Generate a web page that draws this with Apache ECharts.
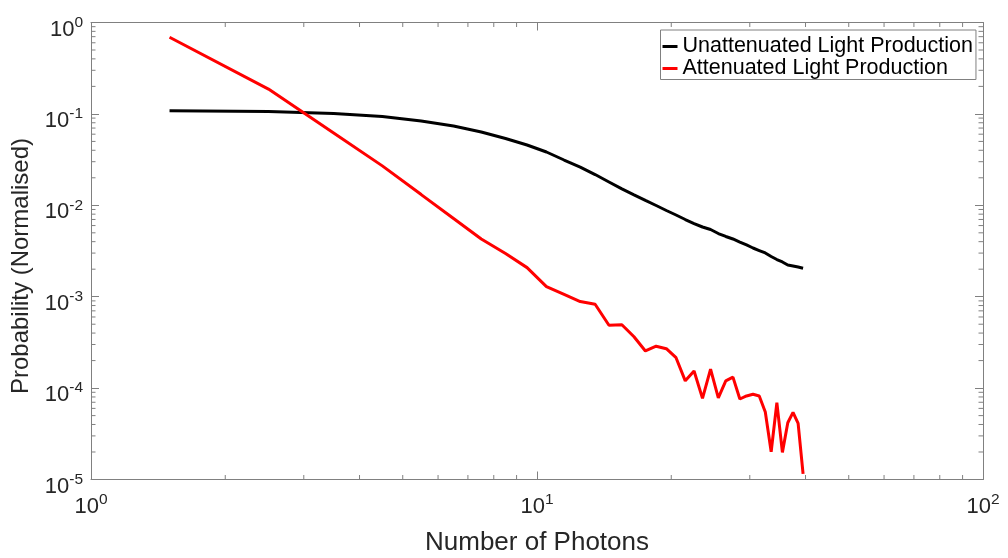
<!DOCTYPE html>
<html>
<head>
<meta charset="utf-8">
<script src="https://cdn.jsdelivr.net/npm/echarts@6/dist/echarts.min.js"></script>
<style>
  html, body { margin: 0; padding: 0; background: #ffffff; }
  #chart { width: 1008px; height: 558px; }
</style>
</head>
<body>
<div id="chart"></div>
<script>
// Photon counts (bin centres)
const photonCounts = [
  1.5, 2.5, 3.5, 4.5, 5.5, 6.5, 7.5, 8.5, 9.5, 10.5,
  11.5, 12.5, 13.5, 14.5, 15.5, 16.5, 17.5, 18.5, 19.5, 20.5,
  21.5, 22.5, 23.5, 24.5, 25.5, 26.5, 27.5, 28.5, 29.5, 30.5,
  31.5, 32.5, 33.5, 34.5, 35.5, 36.5, 37.5, 38.5, 39.5
];

// Normalised probability, unattenuated light production
const unattenuated = [
  0.108, 0.106, 0.101, 0.0937, 0.0836, 0.0737, 0.0634, 0.0538, 0.0457, 0.0383,
  0.0313, 0.0262, 0.0217, 0.0180, 0.0151, 0.0130, 0.0113, 0.00995, 0.00877, 0.00783,
  0.00699, 0.00632, 0.00579, 0.00543, 0.00491, 0.00456, 0.00428, 0.00396, 0.00368, 0.00341,
  0.00320, 0.00301, 0.00275, 0.00255, 0.00240, 0.00222, 0.00217, 0.00211, 0.00205
];

// Normalised probability, attenuated light production
const attenuated = [
  0.689, 0.187, 0.0618, 0.0270, 0.0131, 0.00717, 0.00428, 0.00297, 0.00208, 0.00129,
  0.00106, 0.000886, 0.000826, 0.000487, 0.000494, 0.000365, 0.000255, 0.000287, 0.000270, 0.000215,
  0.000120, 0.000154, 0.0000773, 0.000161, 0.0000780, 0.000120, 0.000132, 0.0000760, 0.0000820, 0.0000855,
  0.0000820, 0.0000547, 0.0000201, 0.0000692, 0.0000198, 0.0000418, 0.0000543, 0.0000412, 0.0000115
];

const seriesNames = ['Unattenuated Light Production', 'Attenuated Light Production'];
const seriesColors = ['#000000', '#ff0000'];

const X_MIN = 1, X_MAX = 100;
const Y_MIN = 1e-5, Y_MAX = 1;

const FONT = '"Liberation Sans", Arial, Helvetica, sans-serif';
const AXIS_GRAY = '#808080';
const LABEL_COLOR = '#262626';

// minor tick positions at 2..9 within each decade
function minorTicks(lo, hi) {
  const out = [];
  for (let e = Math.round(Math.log10(lo)); e < Math.round(Math.log10(hi)); e++) {
    for (let m = 2; m <= 9; m++) out.push(m * Math.pow(10, e));
  }
  return out;
}
const xMinor = minorTicks(X_MIN, X_MAX).map(v => [v, Y_MIN]);
const yMinor = minorTicks(Y_MIN, Y_MAX).map(v => [X_MIN, v]);

// "10" with a raised exponent
const powerLabel = v => '{b|10}{s|' + Math.round(Math.log10(v)) + '}';
const powerRich = {
  b: { fontSize: 22, lineHeight: 30, fontFamily: FONT, color: LABEL_COLOR },
  s: { fontSize: 15.5, lineHeight: 16, fontFamily: FONT, color: LABEL_COLOR, verticalAlign: 'top' }
};

const MINOR_LEN = 4.5;

function tickLine(x1, y1, x2, y2) {
  return {
    type: 'line',
    shape: { x1: x1, y1: y1, x2: x2, y2: y2 },
    style: { stroke: AXIS_GRAY, lineWidth: 1 }
  };
}

const chart = echarts.init(document.getElementById('chart'), null, { renderer: 'canvas' });

chart.setOption({
  animation: false,
  backgroundColor: '#ffffff',
  grid: { left: 91, right: 25, top: 22.5, bottom: 78.5, containLabel: false, outerBoundsMode: 'none' },
  legend: {
    data: seriesNames,
    orient: 'vertical',
    left: 660.5,
    top: 30,
    padding: [5.5, 3, 0, 2],
    itemGap: 0,
    itemWidth: 15,
    itemHeight: 3,
    icon: 'rect',
    backgroundColor: '#ffffff',
    borderColor: '#808080',
    borderWidth: 1,
    textStyle: { fontSize: 21.5, fontFamily: FONT, color: '#000000', lineHeight: 21.7 }
  },
  xAxis: [
    {
      type: 'log', logBase: 10, min: X_MIN, max: X_MAX,
      name: 'Number of Photons', nameLocation: 'middle', nameGap: 50,
      nameTextStyle: { fontSize: 26, fontFamily: FONT, color: LABEL_COLOR },
      axisLine: { lineStyle: { color: AXIS_GRAY, width: 1 } },
      axisTick: { inside: true, length: 8, lineStyle: { color: AXIS_GRAY } },
      axisLabel: { margin: 12, formatter: powerLabel, rich: powerRich },
      splitLine: { show: false }
    },
    {
      type: 'log', logBase: 10, min: X_MIN, max: X_MAX, position: 'top',
      axisLine: { lineStyle: { color: AXIS_GRAY, width: 1 } },
      axisTick: { inside: true, length: 8, lineStyle: { color: AXIS_GRAY } },
      axisLabel: { show: false },
      splitLine: { show: false }
    }
  ],
  yAxis: [
    {
      type: 'log', logBase: 10, min: Y_MIN, max: Y_MAX,
      name: 'Probability (Normalised)', nameLocation: 'middle', nameGap: 53,
      nameTextStyle: { fontSize: 24, fontFamily: FONT, color: LABEL_COLOR, padding: [0, 30, 0, 0] },
      axisLine: { lineStyle: { color: AXIS_GRAY, width: 1 } },
      axisTick: { inside: true, length: 8, lineStyle: { color: AXIS_GRAY } },
      axisLabel: { margin: 8, formatter: powerLabel, rich: powerRich, padding: [14, 0, 0, 0] },
      splitLine: { show: false }
    },
    {
      type: 'log', logBase: 10, min: Y_MIN, max: Y_MAX, position: 'right',
      axisLine: { lineStyle: { color: AXIS_GRAY, width: 1 } },
      axisTick: { inside: true, length: 8, lineStyle: { color: AXIS_GRAY } },
      axisLabel: { show: false },
      splitLine: { show: false }
    }
  ],
  series: [
    {
      // minor ticks along the bottom and top edges
      type: 'custom', silent: true, clip: false, z: 1,
      xAxisIndex: 0, yAxisIndex: 0,
      data: xMinor,
      renderItem: function (params, api) {
        const v = api.value(0);
        const b = api.coord([v, Y_MIN]);
        const t = api.coord([v, Y_MAX]);
        return {
          type: 'group',
          children: [
            tickLine(b[0], b[1], b[0], b[1] - MINOR_LEN),
            tickLine(t[0], t[1], t[0], t[1] + MINOR_LEN)
          ]
        };
      }
    },
    {
      // minor ticks along the left and right edges
      type: 'custom', silent: true, clip: false, z: 1,
      xAxisIndex: 0, yAxisIndex: 0,
      data: yMinor,
      renderItem: function (params, api) {
        const v = api.value(1);
        const l = api.coord([X_MIN, v]);
        const r = api.coord([X_MAX, v]);
        return {
          type: 'group',
          children: [
            tickLine(l[0], l[1], l[0] + MINOR_LEN, l[1]),
            tickLine(r[0], r[1], r[0] - MINOR_LEN, r[1])
          ]
        };
      }
    },
    {
      name: seriesNames[0],
      type: 'line',
      xAxisIndex: 0, yAxisIndex: 0,
      data: photonCounts.map((x, i) => [x, unattenuated[i]]),
      showSymbol: false,
      color: seriesColors[0],
      lineStyle: { width: 3, color: seriesColors[0] },
      z: 3
    },
    {
      name: seriesNames[1],
      type: 'line',
      xAxisIndex: 0, yAxisIndex: 0,
      data: photonCounts.map((x, i) => [x, attenuated[i]]),
      showSymbol: false,
      color: seriesColors[1],
      lineStyle: { width: 3, color: seriesColors[1] },
      z: 4
    }
  ]
});
</script>
</body>
</html>
